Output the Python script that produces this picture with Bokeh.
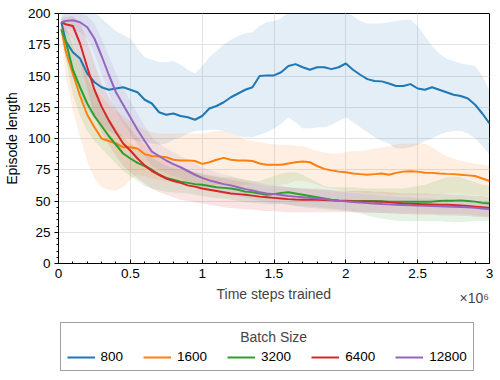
from bokeh.plotting import figure
from bokeh.layouts import column
from bokeh.models import Legend, LegendItem, FixedTicker, NumeralTickFormatter, Label, Range1d
from bokeh.embed import file_html
from bokeh.resources import INLINE

# time steps trained, in millions
timesteps_m = [0.02, 0.05, 0.10, 0.15, 0.20, 0.25, 0.30, 0.35, 0.40, 0.45,
               0.50, 0.55, 0.60, 0.65, 0.70, 0.75, 0.80, 0.85, 0.90, 0.95,
               1.00, 1.05, 1.10, 1.15, 1.20, 1.25, 1.30, 1.35, 1.40, 1.45,
               1.50, 1.55, 1.60, 1.65, 1.70, 1.75, 1.80, 1.85, 1.90, 1.95,
               2.00, 2.05, 2.10, 2.15, 2.20, 2.25, 2.30, 2.35, 2.40, 2.45,
               2.50, 2.55, 2.60, 2.65, 2.70, 2.75, 2.80, 2.85, 2.90, 2.95,
               3.00]

batch_sizes = ["800", "1600", "3200", "6400", "12800"]
colors = ["#1f77b4", "#ff7f0e", "#2ca02c", "#d62728", "#9467bd"]

mean_800 = [193, 178, 169, 164, 152, 145, 141, 139, 140, 141,
            139, 137, 131, 128, 121, 119, 120, 118, 117, 115,
            118, 124, 126, 129, 133, 136, 139, 141, 150, 150.5,
            150.5, 153, 158, 159.5, 157, 155, 157, 157, 155.5, 157,
            160, 155, 151, 147.5, 146, 145.7, 144, 142, 142, 143.5,
            140, 139, 141, 139, 137, 135, 134, 132, 127, 120,
            112]
upper_800 = [205, 205, 205, 205, 204, 201, 196, 191, 186, 183,
             180, 172, 165, 163, 161, 161, 162, 159, 155, 152,
             158, 165, 170, 175, 179, 182, 184, 185, 190, 193,
             194, 196, 201, 204, 205, 205, 205, 205, 204, 202,
             201, 198, 194, 192, 192, 192, 193, 194, 195, 195,
             190, 182, 174, 168, 164, 162, 160, 159, 158, 150,
             138]
lower_800 = [186, 165, 148, 135, 124, 116, 110, 106, 103, 101,
             100, 98, 97, 96, 95, 96, 99, 101, 104, 106,
             106.5, 107, 107, 106, 104, 102, 101, 101, 103, 105,
             108, 112, 117, 113, 108, 108, 109, 109, 111, 114,
             117, 113, 109, 105, 101, 98, 96, 92, 92, 93,
             95, 98, 100, 103, 105, 106, 106, 104, 100, 94,
             87]

mean_1600 = [188, 170, 152, 134, 119, 109, 100, 98, 96, 93,
             93, 92, 87.5, 86, 85.6, 85, 83, 82.4, 82.5, 82,
             79.7, 81, 83, 84.5, 83, 82.4, 82.4, 82, 80, 79,
             79, 79, 80, 81, 81.6, 81, 78, 75.7, 74.5, 73.5,
             73, 72, 71.5, 71, 71.5, 72, 71, 72.5, 73.5, 73.8,
             73.5, 72.6, 72.5, 72, 71.7, 71.5, 71, 70.5, 70, 68,
             66]
upper_1600 = [192, 188, 180, 165, 150, 140, 133, 127, 122, 118,
              114, 110, 107, 105, 104, 104, 104, 104, 104, 104,
              104, 105, 106, 106, 104, 102, 99, 98, 97, 96,
              95.5, 95, 95, 94.5, 94, 92, 90, 89, 88, 88,
              89, 90, 90, 91, 92, 93, 94, 95.5, 96, 96,
              96, 96, 93, 89, 86, 84, 82, 81, 80, 79,
              78]
lower_1600 = [182, 150, 122, 101, 82, 68, 61, 59, 58.3, 61,
              67, 71, 70, 68, 67, 66, 65, 64, 64, 63,
              61, 62, 63, 64, 63, 63, 63, 64, 63, 63,
              63, 63, 64, 66, 66, 65, 63, 61, 60, 59,
              58, 57, 57, 56, 56, 56, 55, 55, 55, 55,
              55, 55, 55, 55, 56, 56, 56, 55, 55, 54,
              54]

mean_3200 = [187, 178, 155, 141, 128, 118, 110, 102, 95, 88,
             84, 80.5, 78, 75, 71, 68.5, 67, 65.5, 64.5, 63.5,
             63, 62, 61, 60.5, 60, 59, 57.5, 57, 56, 55,
             55.5, 56.5, 57, 56, 55, 54, 53, 52, 51, 50.5,
             50.3, 50, 50, 50, 50, 49.8, 49.5, 49.5, 49.5, 49.5,
             49.5, 49.5, 49.5, 50, 50.3, 50.3, 50.5, 50, 49.5, 48.5,
             48]
upper_3200 = [190, 188, 175, 162, 148, 136, 126, 117, 108, 101,
              96, 92, 88, 85, 81, 78, 76, 75, 74, 73,
              72, 71, 70, 69, 69, 68, 67, 66, 66, 68,
              70, 72, 73, 73, 71, 68, 65, 62, 61, 61,
              61, 61, 60.5, 60, 60, 60, 60, 60, 60, 61,
              62, 63, 65, 67, 69, 69.5, 69, 67, 65, 63,
              62]
lower_3200 = [183, 165, 135, 118, 106, 98, 92, 86, 80, 74,
              70, 66, 62, 60, 58.5, 57.5, 57, 56.5, 56, 55,
              54, 53, 52.5, 52, 51, 50, 49, 48.5, 48, 47.5,
              47.5, 47.6, 47, 46, 45, 44.5, 44, 43.5, 43, 42.5,
              42.3, 41, 40, 38.5, 37, 36, 35, 34.2, 34, 34,
              34, 34, 34, 34, 33.5, 33, 33, 33.5, 34, 34,
              34]

mean_6400 = [193, 191.4, 190, 176, 157, 139, 125.5, 114.5, 105, 96,
             90.4, 84, 78.5, 74, 71, 68, 66, 64.5, 62.5, 61.5,
             60, 59, 58, 57, 56, 55.5, 55, 54.3, 53.5, 53,
             52.5, 52, 51.5, 51.2, 51, 51, 51, 50.8, 50.5, 50.2,
             50, 49.8, 49.7, 49.6, 49.5, 49.5, 49, 48.5, 48, 47.8,
             47.6, 47.4, 47.2, 47, 47, 46.8, 46.5, 46, 45.5, 45,
             44.5]
upper_6400 = [196, 197, 198, 193, 178, 160, 144, 133, 124, 115,
              108, 101, 95, 90, 86, 82, 79, 77, 75, 73,
              71, 70, 69, 68, 67, 66, 65, 64, 63, 62.5,
              62, 61.5, 61, 60.5, 60, 60, 60, 59.5, 59, 58.5,
              58, 58, 58, 58, 57.5, 57.5, 57, 56.5, 56, 56,
              56, 56, 55.5, 55.5, 55.5, 55, 55, 54.5, 54, 54,
              53]
lower_6400 = [190, 185, 180, 162, 140, 118, 105, 95, 86, 78,
              73, 68, 64, 60, 57, 55, 53, 51, 50, 49,
              48, 47, 46, 45, 44.5, 44, 43.5, 43, 42.5, 42,
              42, 41.5, 41, 41, 41, 41, 41, 41, 41, 41,
              41, 41, 41, 40.5, 40.5, 40.5, 40, 40, 39.5, 39.5,
              39, 39, 39, 38.5, 38.5, 38.5, 38, 38, 37.5, 37,
              37]

mean_12800 = [193, 194, 194.6, 193, 189, 180, 166, 151, 137, 127,
              117, 107, 98, 89.5, 86, 82.4, 79.5, 77, 74, 71,
              68.5, 66.5, 65, 63.5, 62.5, 61, 59.5, 58.5, 57, 56,
              55.5, 54.8, 54, 53.5, 53, 52.5, 52, 51.5, 50.8, 50.2,
              49.7, 49.2, 48.8, 48.3, 48, 47.6, 47.3, 47, 46.8, 46.5,
              46.3, 46.1, 46, 45.8, 45.6, 45.4, 45.2, 45, 44.5, 44,
              43.5]
upper_12800 = [197, 200, 201, 200, 198, 192, 180, 166, 152, 140,
               130, 120, 110, 101, 96, 92, 89, 86, 83, 80,
               77, 75, 73, 71.5, 70, 68.5, 67, 66, 64.5, 63.5,
               63, 62, 61, 60.5, 60, 59.5, 59, 58.5, 58, 57.5,
               57, 56.5, 56, 55.5, 55, 54.5, 54, 53.5, 53, 53,
               52.5, 52, 52, 51.5, 51.5, 51, 51, 50.5, 50, 50,
               49.5]
lower_12800 = [189, 188, 188, 185, 180, 168, 152, 136, 122, 112,
               104, 95, 86, 78, 75, 72, 70, 68, 65, 62,
               60, 58, 57, 56, 55, 54, 52.5, 51.5, 50, 49,
               48.5, 48, 47, 46.5, 46, 45.5, 45, 44.5, 44, 43.5,
               42.5, 42, 41.5, 41, 41, 40.5, 40.5, 40, 40, 40,
               40, 40, 40, 39.5, 39.5, 39.5, 39.5, 39, 38.5, 38,
               37.5]

x_ticks = [0, 0.5, 1, 1.5, 2, 2.5, 3]
y_ticks = [0, 25, 50, 75, 100, 125, 150, 175, 200]

means = [mean_800, mean_1600, mean_3200, mean_6400, mean_12800]
uppers = [upper_800, upper_1600, upper_3200, upper_6400, upper_12800]
lowers = [lower_800, lower_1600, lower_3200, lower_6400, lower_12800]

FONT = "Liberation Sans"
FS = "13.5px"
FS_LABEL = "14px"

# ---------------- main plot ----------------
p = figure(frame_width=431, frame_height=250, x_range=Range1d(0, 3), y_range=Range1d(0, 200),
           output_backend="svg", toolbar_location=None,
           min_border_left=10, min_border_right=4, min_border_top=13, min_border_bottom=22)

for lo, hi, c in zip(lowers, uppers, colors):
    p.varea(x=timesteps_m, y1=lo, y2=hi, fill_color=c, fill_alpha=0.12)

for name, m, c in zip(batch_sizes, means, colors):
    p.line(x=timesteps_m, y=m, line_color=c, line_width=2)

p.xaxis.ticker = FixedTicker(ticks=x_ticks, minor_ticks=[i / 10 for i in range(31)])
p.yaxis.ticker = FixedTicker(ticks=y_ticks, minor_ticks=list(range(0, 201, 5)))
p.xaxis.formatter = NumeralTickFormatter(format="0.[0]")
p.yaxis.axis_label = "Episode length"
for ax in (p.xaxis[0], p.yaxis[0]):
    ax.axis_label_text_font = FONT
    ax.axis_label_text_font_size = FS_LABEL
    ax.axis_label_text_font_style = "normal"
    ax.axis_label_text_color = "black"
    ax.major_label_text_font = FONT
    ax.major_label_text_font_size = FS
    ax.major_label_text_color = "black"
    ax.axis_line_color = "black"
    ax.major_tick_line_color = "black"
    ax.minor_tick_line_color = "black"
p.xaxis.major_tick_in = 4
p.xaxis.major_tick_out = 0
p.xaxis.minor_tick_in = 2
p.xaxis.minor_tick_out = 0
p.xaxis.major_label_standoff = 5
p.yaxis.major_tick_in = 0
p.yaxis.major_tick_out = 4
p.yaxis.minor_tick_in = 0
p.yaxis.minor_tick_out = 2
p.yaxis.major_label_standoff = 4
p.yaxis.axis_label_standoff = 5

p.xgrid.grid_line_color = "#e3e3e3"
p.ygrid.grid_line_color = "#e3e3e3"
p.outline_line_color = "black"
p.outline_line_alpha = 1

# ---------------- bottom strip: x label, exponent, legend ----------------
# y range 0..1 keeps the proxy lines (same data) out of view; they only feed the legend
lf = figure(frame_width=493, frame_height=90, x_range=Range1d(0, 1), y_range=Range1d(0, 1),
            output_backend="svg", toolbar_location=None, x_axis_type=None, y_axis_type=None,
            min_border=0, min_border_left=0, min_border_right=0, min_border_top=0, min_border_bottom=0)
lf.grid.visible = False
lf.outline_line_color = None

items = []
for name, m, c in zip(batch_sizes, means, colors):
    r = lf.line(x=timesteps_m, y=m, line_color=c, line_width=2)
    items.append(LegendItem(label=name, renderers=[r]))

legend = Legend(items=items, orientation="horizontal", location=(59.5, 4),
                title="\u00a0", title_text_font=FONT, title_text_font_size=FS,
                title_standoff=5,
                label_text_font=FONT, label_text_font_size=FS, label_text_color="black",
                glyph_width=28, glyph_height=14, label_height=14,
                label_standoff=6, spacing=20, padding=6,
                border_line_color="#444444", border_line_width=1,
                background_fill_alpha=0, margin=0)
lf.add_layout(legend, "center")

lf.add_layout(Label(x=158, y=81.5, x_units="screen", y_units="screen", text="Time steps trained",
                    text_align="left", text_baseline="alphabetic",
                    text_font=FONT, text_font_size=FS_LABEL))
lf.add_layout(Label(x=401, y=77.3, x_units="screen", y_units="screen", text="\u00d710\u2076",
                    text_align="left", text_baseline="alphabetic",
                    text_font=FONT, text_font_size=FS_LABEL))
lf.add_layout(Label(x=181.7, y=39, x_units="screen", y_units="screen", text="Batch Size",
                    text_align="left", text_baseline="alphabetic", level="overlay",
                    text_font=FONT, text_font_size=FS_LABEL))

layout = column(p, lf, spacing=0)
open("out.html", "w").write(file_html(layout, INLINE))
